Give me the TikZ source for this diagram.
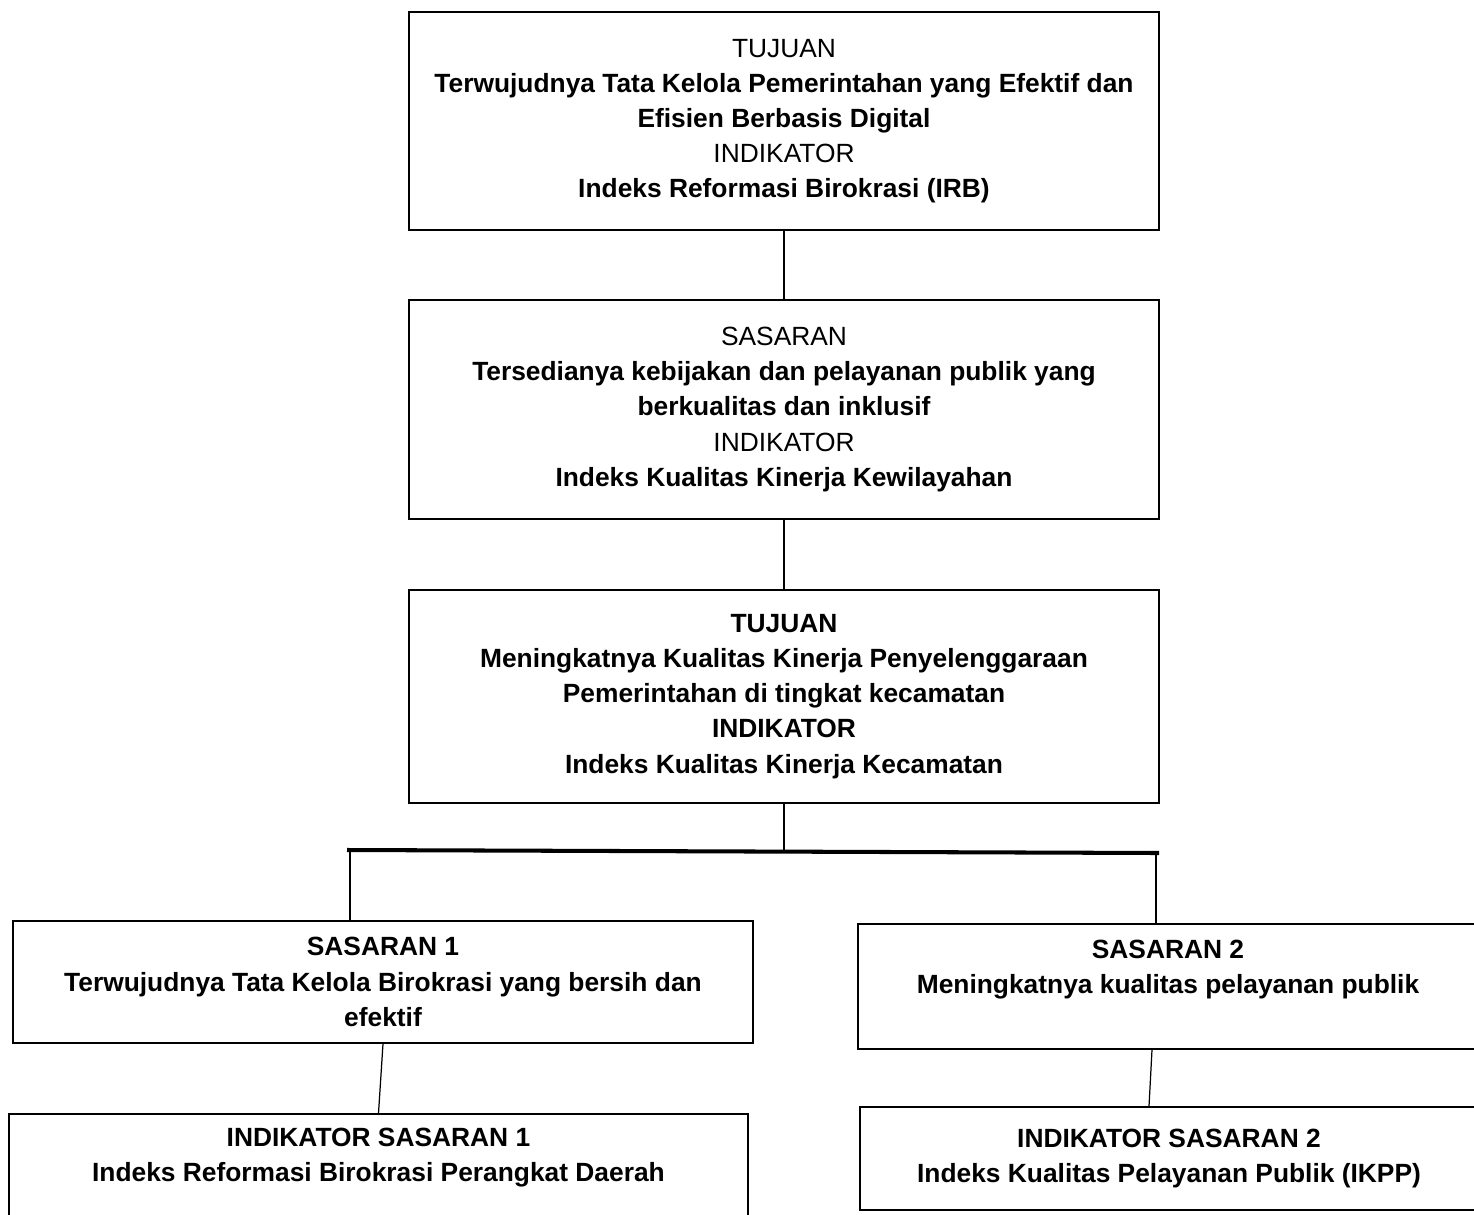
\documentclass[tikz,border=0pt]{standalone}
\usepackage{fontspec}
\setmainfont{Liberation Sans}
\usetikzlibrary{positioning, calc}
\tikzset{
  box/.style={
      rectangle,
      draw,
      line width=0.8pt,
      align=center,
      inner sep=2pt,
      font=\fontsize{15pt}{20pt}\selectfont
    },
  boldbox/.style={
      box,
      font=\fontsize{15pt}{20pt}\selectfont\bfseries
    },
  link/.style={
      line width=0.7pt
    },
  bar/.style={
      line width=2.3pt
    }
}

\begin{document}
\begin{tikzpicture}[x=0.02cm, y=-0.02cm]
  \useasboundingbox (0,0) rectangle (1474,1214);
  \clip (0,0) rectangle (1474,1214);
  \node[box, minimum width=15cm, minimum height=4.36cm] (tujuan) at (784,121)
    {TUJUAN\\ \textbf{Terwujudnya Tata Kelola Pemerintahan yang Efektif dan}\\ \textbf{Efisien Berbasis Digital}\\ INDIKATOR\\ \textbf{Indeks Reformasi Birokrasi (IRB)}};
  \node[box, minimum width=15cm, minimum height=4.38cm] (sasaran) at (784,409.5)
    {SASARAN\\ \textbf{Tersedianya kebijakan dan pelayanan publik yang}\\ \textbf{berkualitas dan inklusif}\\ INDIKATOR\\ \textbf{Indeks Kualitas Kinerja Kewilayahan}};
  \node[boldbox, minimum width=15cm, minimum height=4.26cm] (tujkec) at (784,696.5)
    {TUJUAN\\ Meningkatnya Kualitas Kinerja Penyelenggaraan\\ Pemerintahan di tingkat kecamatan\\ INDIKATOR\\ Indeks Kualitas Kinerja Kecamatan};
  % garis cabang
  \coordinate (barL) at (347,850);
  \coordinate (barR) at (1159,853);
  \coordinate (dropL) at (350,850);
  \coordinate (dropR) at (1156,853);
  \node[boldbox, minimum width=14.8cm, minimum height=2.44cm] (sas1) at (383,982)
    {SASARAN 1\\ Terwujudnya Tata Kelola Birokrasi yang bersih dan\\ efektif};
  \node[boldbox, minimum width=12.4cm, minimum height=2.5cm] (sas2) at (1168,986.5)
    {SASARAN 2\\ Meningkatnya kualitas pelayanan publik\\[0.1cm]};
  \node[boldbox, minimum width=14.78cm, minimum height=2.32cm] (ind1) at (378.5,1172)
    {INDIKATOR SASARAN 1\\ Indeks Reformasi Birokrasi Perangkat Daerah\\};
  \node[boldbox, minimum width=12.36cm, minimum height=2.06cm] (ind2) at (1169,1158.5)
    {INDIKATOR SASARAN 2\\ Indeks Kualitas Pelayanan Publik (IKPP)};
  \draw[link] (tujuan.south) -- (sasaran.north);
  \draw[link] (sasaran.south) -- (tujkec.north);
  \draw[link] (tujkec.south) -- (tujkec.south |- barL);
  \draw[bar] (barL) -- (barR);
  \draw[link] (dropL) -- (dropL |- sas1.north);
  \draw[link] (dropR) -- (dropR |- sas2.north);
  \draw[link] (sas1.south) -- (ind1.north);
  \draw[link] ([xshift=-0.32cm]sas2.south) -- ([xshift=-0.4cm]ind2.north);
\end{tikzpicture}
\end{document}
